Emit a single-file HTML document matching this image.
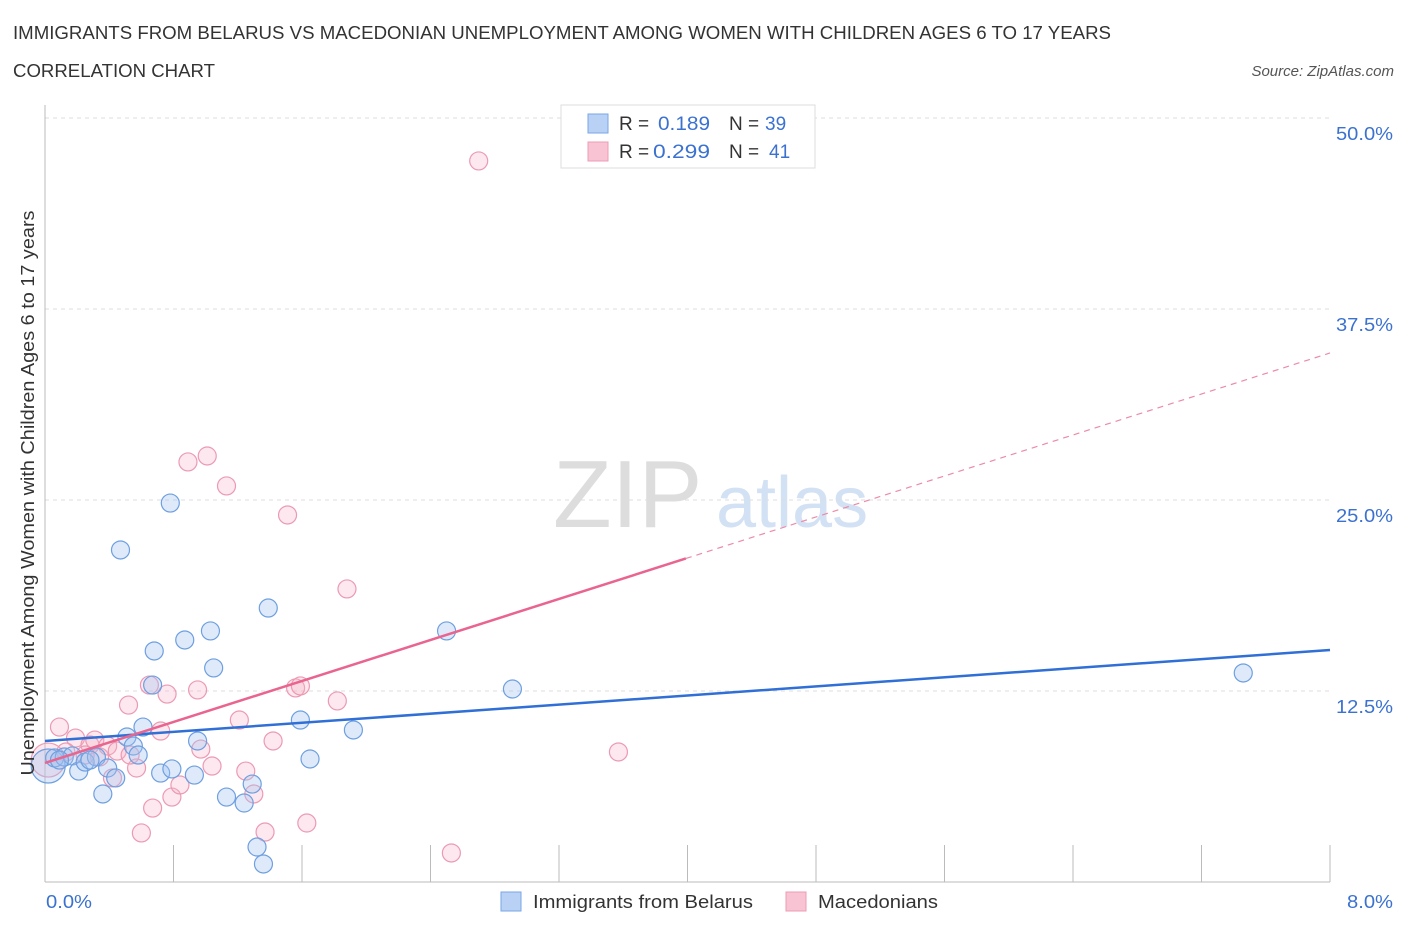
<!DOCTYPE html>
<html><head><meta charset="utf-8"><style>
body{margin:0;background:#fff;font-family:"Liberation Sans",sans-serif}
svg text{font-family:"Liberation Sans",sans-serif}
</style></head><body>
<svg id="c" width="1406" height="930">
<text x="13" y="39" font-size="18" fill="#333" textLength="1098" lengthAdjust="spacingAndGlyphs">IMMIGRANTS FROM BELARUS VS MACEDONIAN UNEMPLOYMENT AMONG WOMEN WITH CHILDREN AGES 6 TO 17 YEARS</text>
<text x="13" y="77" font-size="18" fill="#333" textLength="202" lengthAdjust="spacingAndGlyphs">CORRELATION CHART</text>
<text x="1394" y="76" font-size="15" fill="#555" font-style="italic" text-anchor="end">Source: ZipAtlas.com</text>
<g>
<text x="553" y="527" font-size="96" fill="#ddd" font-family="Liberation Serif,serif">ZIP</text>
<text x="716" y="527" font-size="72" fill="#d3e1f4">atlas</text></g>
<g id="grid"></g><g id="pts"></g><g id="lines"></g>
<text transform="translate(34,493) rotate(-90)" font-size="18" fill="#333" text-anchor="middle" textLength="565" lengthAdjust="spacingAndGlyphs">Unemployment Among Women with Children Ages 6 to 17 years</text>
<text x="46" y="908" font-size="18" fill="#3b72d0" textLength="46" lengthAdjust="spacingAndGlyphs">0.0%</text>
<text x="1393" y="908" font-size="18" fill="#3b72d0" text-anchor="end" textLength="46" lengthAdjust="spacingAndGlyphs">8.0%</text>
<g>
<rect x="561" y="105" width="254" height="63" fill="#fff" stroke="#ddd"/>
<rect x="588" y="114" width="20" height="19" fill="#b9d1f4" stroke="#7aa6e4"/>
<rect x="588" y="142" width="20" height="19" fill="#f8c4d4" stroke="#ee9cb6"/>
<text x="619" y="130" font-size="19" fill="#333">R =</text><text x="658" y="130" font-size="19" fill="#3b72d0" textLength="52" lengthAdjust="spacingAndGlyphs">0.189</text>
<text x="729" y="130" font-size="19" fill="#333">N =</text><text x="765" y="130" font-size="19" fill="#3b72d0">39</text>
<text x="619" y="158" font-size="19" fill="#333">R =</text><text x="653" y="158" font-size="19" fill="#3b72d0" textLength="57" lengthAdjust="spacingAndGlyphs">0.299</text>
<text x="729" y="158" font-size="19" fill="#333">N =</text><text x="769" y="158" font-size="19" fill="#3b72d0">41</text></g>
<g>
<rect x="501" y="892" width="20" height="19" fill="#b9d1f4" stroke="#7aa6e4"/>
<text x="533" y="908" font-size="18" fill="#333" textLength="220" lengthAdjust="spacingAndGlyphs">Immigrants from Belarus</text>
<rect x="786" y="892" width="20" height="19" fill="#f8c4d4" stroke="#ee9cb6"/>
<text x="818" y="908" font-size="18" fill="#333" textLength="120" lengthAdjust="spacingAndGlyphs">Macedonians</text></g>
</svg>
<script>
const yTicks=[12.5,25,37.5,50];
const xTicks=[0,0.8,1.6,2.4,3.2,4,4.8,5.6,6.4,7.2,8];
const blueX=[0.02,0.06,0.12,0.17,0.21,0.25,0.32,0.36,0.39,0.44,0.47,0.51,0.55,0.58,0.61,0.67,0.68,0.72,0.78,0.79,0.87,0.93,0.95,1.03,1.05,1.13,1.24,1.29,1.32,1.36,1.39,1.59,1.65,1.92,2.50,2.91,7.46,0.28,0.09];
const blueY=[7.59,8.12,8.18,8.25,7.26,7.85,8.18,5.76,7.46,6.81,21.73,9.49,8.90,8.31,10.14,12.89,15.12,7.13,24.80,7.40,15.84,7.00,9.23,16.43,14.01,5.56,5.17,6.41,2.29,1.18,17.93,10.60,8.05,9.95,16.43,12.63,13.68,7.98,7.98];
const pinkX=[0.02,0.09,0.19,0.28,0.31,0.34,0.39,0.45,0.52,0.57,0.60,0.65,0.67,0.72,0.76,0.79,0.84,0.89,0.95,0.97,1.01,1.04,1.13,1.21,1.25,1.30,1.37,1.42,1.51,1.56,1.59,1.63,1.82,1.88,2.53,2.70,3.57,0.13,0.25,0.42,0.53];
const pinkY=[7.98,10.14,9.42,8.97,9.29,8.18,8.90,8.57,11.58,7.46,3.21,12.89,4.84,9.88,12.30,5.56,6.35,27.49,12.57,8.70,27.88,7.59,25.92,10.60,7.26,5.76,3.27,9.23,24.02,12.70,12.83,3.86,11.85,19.18,1.90,47.19,8.51,8.51,8.31,6.81,8.31];
const blueTrend=[9.23,0.744];
const pinkTrend=[7.79,3.354];
const X=v=>45+v*160.625, Y=v=>882-v*15.28;
const NS='http://www.w3.org/2000/svg';
function mk(p,t,a){const e=document.createElementNS(NS,t);for(const k in a)e.setAttribute(k,a[k]);p.appendChild(e);return e;}
const g=document.getElementById('grid');
yTicks.forEach(v=>{
const l=mk(g,'line',{x1:45,x2:1330,y1:Y(v),y2:Y(v),stroke:'#ddd','stroke-dasharray':'4,4'});


const t=mk(g,'text',{x:1393,y:Y(v)+22,'font-size':18,fill:'#3b72d0','text-anchor':'end',textLength:57,lengthAdjust:'spacingAndGlyphs'});t.textContent=v.toFixed(1)+'%';


});
xTicks.forEach(v=>{const l=mk(g,'line',{x1:X(v),x2:X(v),y1:845,y2:882,stroke:'#bbb'});

});
mk(g,'line',{x1:45,x2:45,y1:105,y2:882,stroke:'#bbb'});
mk(g,'line',{x1:45,x2:1330,y1:882,y2:882,stroke:'#bbb'});
const P=document.getElementById('pts');
function dots(xs,ys,fill,stroke,name){xs.forEach((x,i)=>{const r=i===0?17:9;
const c=mk(P,'circle',{cx:X(x),cy:Y(ys[i]),r:r,fill:fill,stroke:stroke,'stroke-width':1.2});

});}
dots(pinkX,pinkY,'rgba(246,178,198,0.3)','#ec9ab4','macedonians-point');
dots(blueX,blueY,'rgba(160,196,240,0.35)','#6e9fe0','belarus-point');
const L=document.getElementById('lines');
const bl=mk(L,'line',{x1:X(0),y1:Y(blueTrend[0]),x2:X(8),y2:Y(blueTrend[0]+8*blueTrend[1]),stroke:'#2f6fd6','stroke-width':2.5});


const pl=mk(L,'line',{x1:X(0),y1:Y(pinkTrend[0]),x2:X(3.99),y2:Y(pinkTrend[0]+3.99*pinkTrend[1]),stroke:'#e9648f','stroke-width':2.5});


const pd=mk(L,'line',{x1:X(3.99),y1:Y(pinkTrend[0]+3.99*pinkTrend[1]),x2:X(8),y2:Y(pinkTrend[0]+8*pinkTrend[1]),stroke:'#ec8aa8','stroke-width':1.2,'stroke-dasharray':'6,5'});


</script>
</body></html>
